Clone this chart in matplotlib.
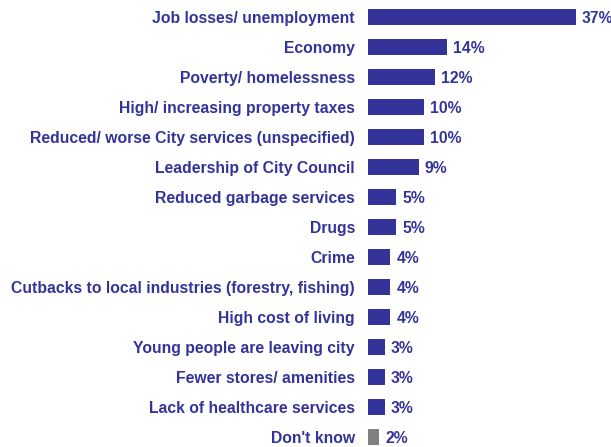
import matplotlib.pyplot as plt

categories = [
    "Job losses/ unemployment",
    "Economy",
    "Poverty/ homelessness",
    "High/ increasing property taxes",
    "Reduced/ worse City services (unspecified)",
    "Leadership of City Council",
    "Reduced garbage services",
    "Drugs",
    "Crime",
    "Cutbacks to local industries (forestry, fishing)",
    "High cost of living",
    "Young people are leaving city",
    "Fewer stores/ amenities",
    "Lack of healthcare services",
    "Don't know",
]
values = [37, 14, 12, 10, 10, 9, 5, 5, 4, 4, 4, 3, 3, 3, 2]

blue = "#333399"
gray = "#808080"
colors = [gray if c == "Don't know" else blue for c in categories]

plt.rcParams['font.family'] = ['Liberation Sans', 'DejaVu Sans']

fig = plt.figure(figsize=(6.11, 4.47), dpi=100)
ax = fig.add_axes([368 / 611, 0, 243 / 611, 445 / 447])

ypos = list(range(len(categories)))
ax.barh(ypos, values, height=0.53, color=colors)
ax.set_xlim(0, 243 / 5.62)
ax.set_ylim(14.33, -0.5)

for y, v in zip(ypos, values):
    ax.annotate(f"{v}%", (v, y), xytext=(4.3, 0), textcoords='offset points',
                va='center_baseline', ha='left', fontsize=11.3,
                fontweight='bold', color=blue)

ax.set_yticks(ypos)
ax.set_yticklabels(categories, fontsize=11.3, fontweight='bold', color=blue,
                   va='center_baseline')
ax.tick_params(axis='y', length=0, pad=9.4)
ax.set_xticks([])
for s in ax.spines.values():
    s.set_visible(False)

fig.savefig("out.png", dpi=100)
